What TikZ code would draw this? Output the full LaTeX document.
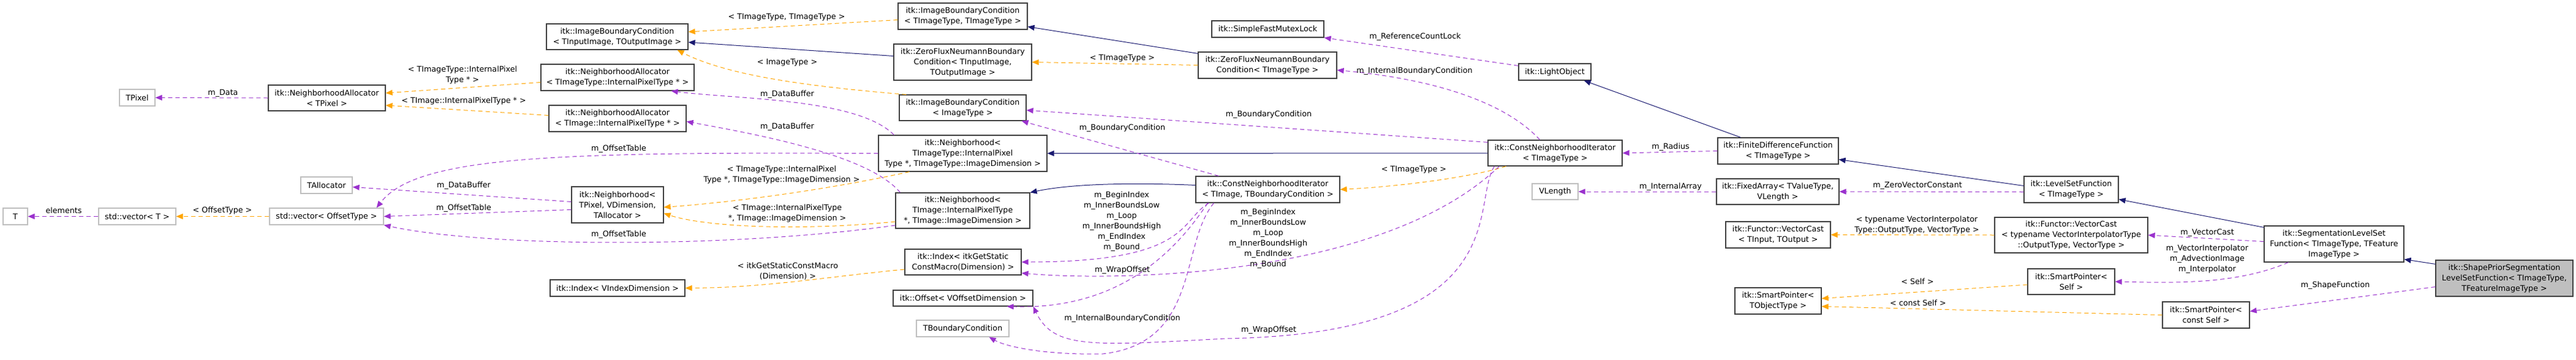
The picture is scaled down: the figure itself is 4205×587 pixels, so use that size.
\documentclass[tikz,border=0pt]{standalone}
\usepackage{fontspec}
\setmainfont{DejaVu Sans}
\usetikzlibrary{arrows.meta}
\definecolor{pur}{HTML}{9A32CD}
\definecolor{org}{HTML}{FFA500}
\definecolor{nav}{HTML}{191970}
\definecolor{bd}{HTML}{404040}
\definecolor{gb}{HTML}{BFBFBF}
\newcommand\nd[7][bx]{%
 \pgfmathsetmacro\ndw{#5-#3}\pgfmathsetmacro\ndh{#6-#4}%
 \pgfmathsetmacro\ndx{(#3+#5)/2}\pgfmathsetmacro\ndy{(#4+#6)/2}%
 \node[#1,minimum width=\ndw pt,minimum height=\ndh pt] (#2) at (\ndx,\ndy) {#7};}
\begin{document}
\begin{tikzpicture}[x=1pt,y=-1pt,
 every node/.style={font=\fontsize{12.7}{17}\selectfont},
 bx/.style={draw=bd,line width=1.2pt,fill=white,inner sep=0pt,align=center},
 gx/.style={bx,draw=gb},
 hx/.style={bx,fill=gb},
 tip/.style={-{Triangle[length=11pt,width=9pt]}},
 mem/.style={draw=pur,line width=1pt,dash pattern=on 7pt off 5pt,tip},
 tpl/.style={draw=org,line width=1pt,dash pattern=on 7pt off 5pt,tip},
 inh/.style={draw=nav,line width=1pt,tip},
 lb/.style={align=center,inner sep=0pt}]
\useasboundingbox (0,0) rectangle (4205,587);
\nd[gx]{T}{5}{340}{45}{367}{T}
\nd[gx]{vecT}{161}{340}{287}{367}{std::vector< T >}
\nd[gx]{vecOff}{440}{340}{626}{367}{std::vector< OffsetType >}
\nd[gx]{TAlloc}{491}{289}{575}{316}{TAllocator}
\nd[gx]{TPixel}{195}{146}{253}{173}{TPixel}
\nd{naP}{438}{139}{629}{181}{itk::NeighborhoodAllocator\\< TPixel >}
\nd{ibcIO}{892}{39}{1123}{81}{itk::ImageBoundaryCondition\\< TInputImage, TOutputImage >}
\nd{naTT}{883}{105}{1133}{148}{itk::NeighborhoodAllocator\\< TImageType::InternalPixelType * >}
\nd{naTI}{896}{172}{1120}{215}{itk::NeighborhoodAllocator\\< TImage::InternalPixelType * >}
\nd{nbP}{933}{305}{1083}{364}{itk::Neighborhood<\\ TPixel, VDimension,\\ TAllocator >}
\nd{idxV}{898}{457}{1118}{484}{itk::Index< VIndexDimension >}
\nd{ibcTT}{1466}{5}{1677}{48}{itk::ImageBoundaryCondition\\< TImageType, TImageType >}
\nd{zfIO}{1459}{72}{1684}{131}{itk::ZeroFluxNeumannBoundary\\Condition< TInputImage,\\ TOutputImage >}
\nd{ibcI}{1468}{155}{1675}{197}{itk::ImageBoundaryCondition\\< ImageType >}
\nd{nbTT}{1434}{221}{1709}{280}{itk::Neighborhood<\\ TImageType::InternalPixel\\Type *, TImageType::ImageDimension >}
\nd{nbTI}{1462}{315}{1681}{373}{itk::Neighborhood<\\ TImage::InternalPixelType\\ *, TImage::ImageDimension >}
\nd{idxG}{1477}{407}{1667}{449}{itk::Index< itkGetStatic\\ConstMacro(Dimension) >}
\nd{off}{1458}{474}{1686}{500}{itk::Offset< VOffsetDimension >}
\nd[gx]{tbc}{1496}{523}{1647}{550}{TBoundaryCondition}
\nd{cniTB}{1952}{288}{2187}{331}{itk::ConstNeighborhoodIterator\\< TImage, TBoundaryCondition >}
\nd{zfT}{1956}{85}{2182}{128}{itk::ZeroFluxNeumannBoundary\\Condition< TImageType >}
\nd{sfml}{1978}{34}{2161}{61}{itk::SimpleFastMutexLock}
\nd{lo}{2479}{104}{2597}{131}{itk::LightObject}
\nd{cniT}{2429}{229}{2648}{271}{itk::ConstNeighborhoodIterator\\< TImageType >}
\nd[gx]{vlen}{2501}{300}{2576}{326}{VLength}
\nd{fdf}{2804}{225}{3001}{268}{itk::FiniteDifferenceFunction\\< TImageType >}
\nd{fa}{2802}{292}{3002}{334}{itk::FixedArray< TValueType,\\ VLength >}
\nd{vcIO}{2817}{362}{2988}{405}{itk::Functor::VectorCast\\< TInput, TOutput >}
\nd{spO}{2832}{470}{2973}{513}{itk::SmartPointer<\\ TObjectType >}
\nd{lsf}{3304}{288}{3458}{331}{itk::LevelSetFunction\\< TImageType >}
\nd{vcT}{3256}{355}{3506}{413}{itk::Functor::VectorCast\\< typename VectorInterpolatorType\\::OutputType, VectorType >}
\nd{spS}{3310}{439}{3452}{481}{itk::SmartPointer<\\ Self >}
\nd{slsf}{3696}{369}{3924}{428}{itk::SegmentationLevelSet\\Function< TImageType, TFeature\\ImageType >}
\nd{spc}{3530}{493}{3672}{536}{itk::SmartPointer<\\ const Self >}
\nd[hx]{sp}{3976}{425}{4200}{484}{itk::ShapePriorSegmentation\\LevelSetFunction< TImageType,\\ TFeatureImageType >}
% edges
\draw[mem] (vecT.west) -- (T.east);
\draw[tpl] (vecOff.west) -- (vecT.east);
\draw[mem] (naP.west) -- (TPixel.east);
\draw[tpl] ([yshift=-8pt]naTT.west) -- ([yshift=8pt]naP.east);
\draw[tpl] ([yshift=5pt]naTI.west) -- ([yshift=-12pt]naP.east);
\draw[mem] ([yshift=5pt]nbP.west) -- ([yshift=-3pt]TAlloc.east);
\draw[mem] ([yshift=-8pt]nbP.west) -- (vecOff.east);
\draw[mem] (nbTT.west) .. controls (900,248) and (680,255) .. ([xshift=-12pt]vecOff.north east);
\draw[mem] ([yshift=-24pt]nbTI.west) .. controls (1200,405) and (800,405) .. (vecOff.south east);
\draw[mem] ([xshift=26pt]nbTT.north west) .. controls (1400,160) and (1200,162) .. ([xshift=-38pt]naTT.south east);
\draw[mem] ([xshift=8pt]nbTI.north west) .. controls (1420,255) and (1250,222) .. ([yshift=-5pt]naTI.east);
\draw[tpl] ([xshift=51pt]nbTT.south west) .. controls (1350,310) and (1200,330) .. ([yshift=-4pt]nbP.east);
\draw[tpl] ([yshift=-18pt]nbTI.west) .. controls (1300,378) and (1150,370) .. ([yshift=-14pt]nbP.east);
\draw[tpl] ([yshift=-12pt]idxG.west) .. controls (1350,452) and (1250,470) .. (idxV.east);
\draw[tpl] ([xshift=12pt]ibcI.north west) .. controls (1300,140) and (1180,120) .. ([xshift=-18pt]ibcIO.south east);
\draw[tpl] ([yshift=-6pt]ibcTT.west) -- ([yshift=8pt]ibcIO.east);
\draw[inh] ([yshift=10pt]zfIO.west) -- ([yshift=-9pt]ibcIO.east);
\draw[tpl] (zfT.west) -- (zfIO.east);
\draw[inh] ([yshift=-3pt]zfT.north west) -- ([yshift=5pt]ibcTT.south east);
\draw[mem] ([yshift=-4pt]lo.north west) -- (sfml.south east);
\draw[mem] ([xshift=-135pt]cniT.north east) .. controls (2460,170) and (2350,130) .. ([yshift=-8pt]zfT.east);
\draw[mem] ([yshift=-4pt]cniT.north west) -- ([yshift=-4pt]ibcI.east);
\draw[inh] (cniT.west) -- (nbTT.east);
\draw[tpl] ([xshift=30pt]cniT.south west) .. controls (2400,290) and (2280,305) .. (cniTB.east);
\draw[mem] ([xshift=38pt]cniTB.north west) -- ([xshift=-8pt]ibcI.south east);
\draw[inh] ([yshift=7pt]cniTB.west) .. controls (1850,298) and (1750,300) .. (nbTI.north east);
\draw[mem] ([xshift=22pt]cniTB.south west) .. controls (1925,360) and (1945,428) .. (idxG.east);
\draw[mem] ([xshift=20pt]cniTB.south west) .. controls (1900,440) and (1800,505) .. ([xshift=-43pt]off.south east);
\draw[mem] ([xshift=30pt]cniTB.south west) .. controls (1925,400) and (1960,560) .. (1800,578) .. controls (1700,580) and (1640,565) .. ([xshift=-33pt]tbc.south east);
\draw[mem] ([xshift=19pt]cniT.south west) .. controls (2250,460) and (1800,458) .. ([yshift=-18pt]idxG.east);
\draw[mem] ([xshift=11pt]cniT.south west) .. controls (2400,330) and (2480,545) .. (2000,553) .. controls (1780,565) and (1720,570) .. (off.south east);
\draw[mem] (fdf.west) -- (cniT.east);
\draw[inh] ([xshift=38pt]fdf.north west) -- ([xshift=-12pt]lo.south east);
\draw[mem] (fa.west) -- (vlen.east);
\draw[inh] ([yshift=6pt]lsf.west) -- ([yshift=-14pt]fdf.east);
\draw[mem] ([yshift=-4pt]lsf.west) -- (fa.east);
\draw[inh] ([yshift=-3pt]slsf.north west) -- ([yshift=6pt]lsf.south east);
\draw[inh] ([yshift=-7pt]sp.north west) -- ([yshift=5pt]slsf.south east);
\draw[mem] ([yshift=4pt]slsf.west) -- (vcT.east);
\draw[tpl] (vcT.west) -- (vcIO.east);
\draw[mem] ([xshift=40pt]slsf.south west) .. controls (3650,465) and (3550,462) .. (spS.east);
\draw[tpl] ([yshift=-5pt]spS.west) -- ([yshift=4pt]spO.east);
\draw[tpl] (spc.west) -- ([yshift=-9pt]spO.east);
\draw[mem] ([yshift=-14pt]sp.west) -- ([yshift=6pt]spc.east);
% labels
\node[lb] (l1) at (104,344) {elements};
\node[lb] (l2) at (363,344) {< OffsetType >};
\node[lb] (l3) at (364,152) {m\_Data};
\node[lb] (l4) at (755,122) {< TImageType::InternalPixel\\Type * >};
\node[lb] (l5) at (757,165) {< TImage::InternalPixelType * >};
\node[lb] (l6) at (757,303) {m\_DataBuffer};
\node[lb] (l7) at (757,340) {m\_OffsetTable};
\node[lb] (l8) at (1010,243) {m\_OffsetTable};
\node[lb] (l9) at (1010,383) {m\_OffsetTable};
\node[lb] (l10) at (1284,28) {< TImageType, TImageType >};
\node[lb] (l11) at (1285,102) {< ImageType >};
\node[lb] (l12) at (1285,154) {m\_DataBuffer};
\node[lb] (l13) at (1285,207) {m\_DataBuffer};
\node[lb] (l14) at (1276,285) {< TImageType::InternalPixel\\Type *, TImageType::ImageDimension >};
\node[lb] (l15) at (1285,348) {< TImage::InternalPixelType\\*, TImage::ImageDimension >};
\node[lb] (l16) at (1286,443) {< itkGetStaticConstMacro\\(Dimension) >};
\node[lb] (l17) at (1832,95) {< TImageType >};
\node[lb] (l18) at (1832,209) {m\_BoundaryCondition};
\node[lb] (l19) at (1831,362) {m\_BeginIndex\\m\_InnerBoundsLow\\m\_Loop\\m\_InnerBoundsHigh\\m\_EndIndex\\m\_Bound};
\node[lb] (l20) at (1832,441) {m\_WrapOffset};
\node[lb] (l21) at (1832,520) {m\_InternalBoundaryCondition};
\node[lb] (l22) at (2071,187) {m\_BoundaryCondition};
\node[lb] (l23) at (2070,390) {m\_BeginIndex\\m\_InnerBoundsLow\\m\_Loop\\m\_InnerBoundsHigh\\m\_EndIndex\\m\_Bound};
\node[lb] (l24) at (2071,539) {m\_WrapOffset};
\node[lb] (l25) at (2310,60) {m\_ReferenceCountLock};
\node[lb] (l26) at (2309,116) {m\_InternalBoundaryCondition};
\node[lb] (l27) at (2308,277) {< TImageType >};
\node[lb] (l28) at (2727,240) {m\_Radius};
\node[lb] (l29) at (2727,305) {m\_InternalArray};
\node[lb] (l30) at (3130,303) {m\_ZeroVectorConstant};
\node[lb] (l31) at (3129,367) {< typename VectorInterpolator\\Type::OutputType, VectorType >};
\node[lb] (l32) at (3130,460) {< Self >};
\node[lb] (l33) at (3131,495) {< const Self >};
\node[lb] (l34) at (3603,380) {m\_VectorCast};
\node[lb] (l35) at (3603,423) {m\_VectorInterpolator\\m\_AdvectionImage\\m\_Interpolator};
\node[lb] (l36) at (3812,466) {m\_ShapeFunction};
\end{tikzpicture}
\end{document}
